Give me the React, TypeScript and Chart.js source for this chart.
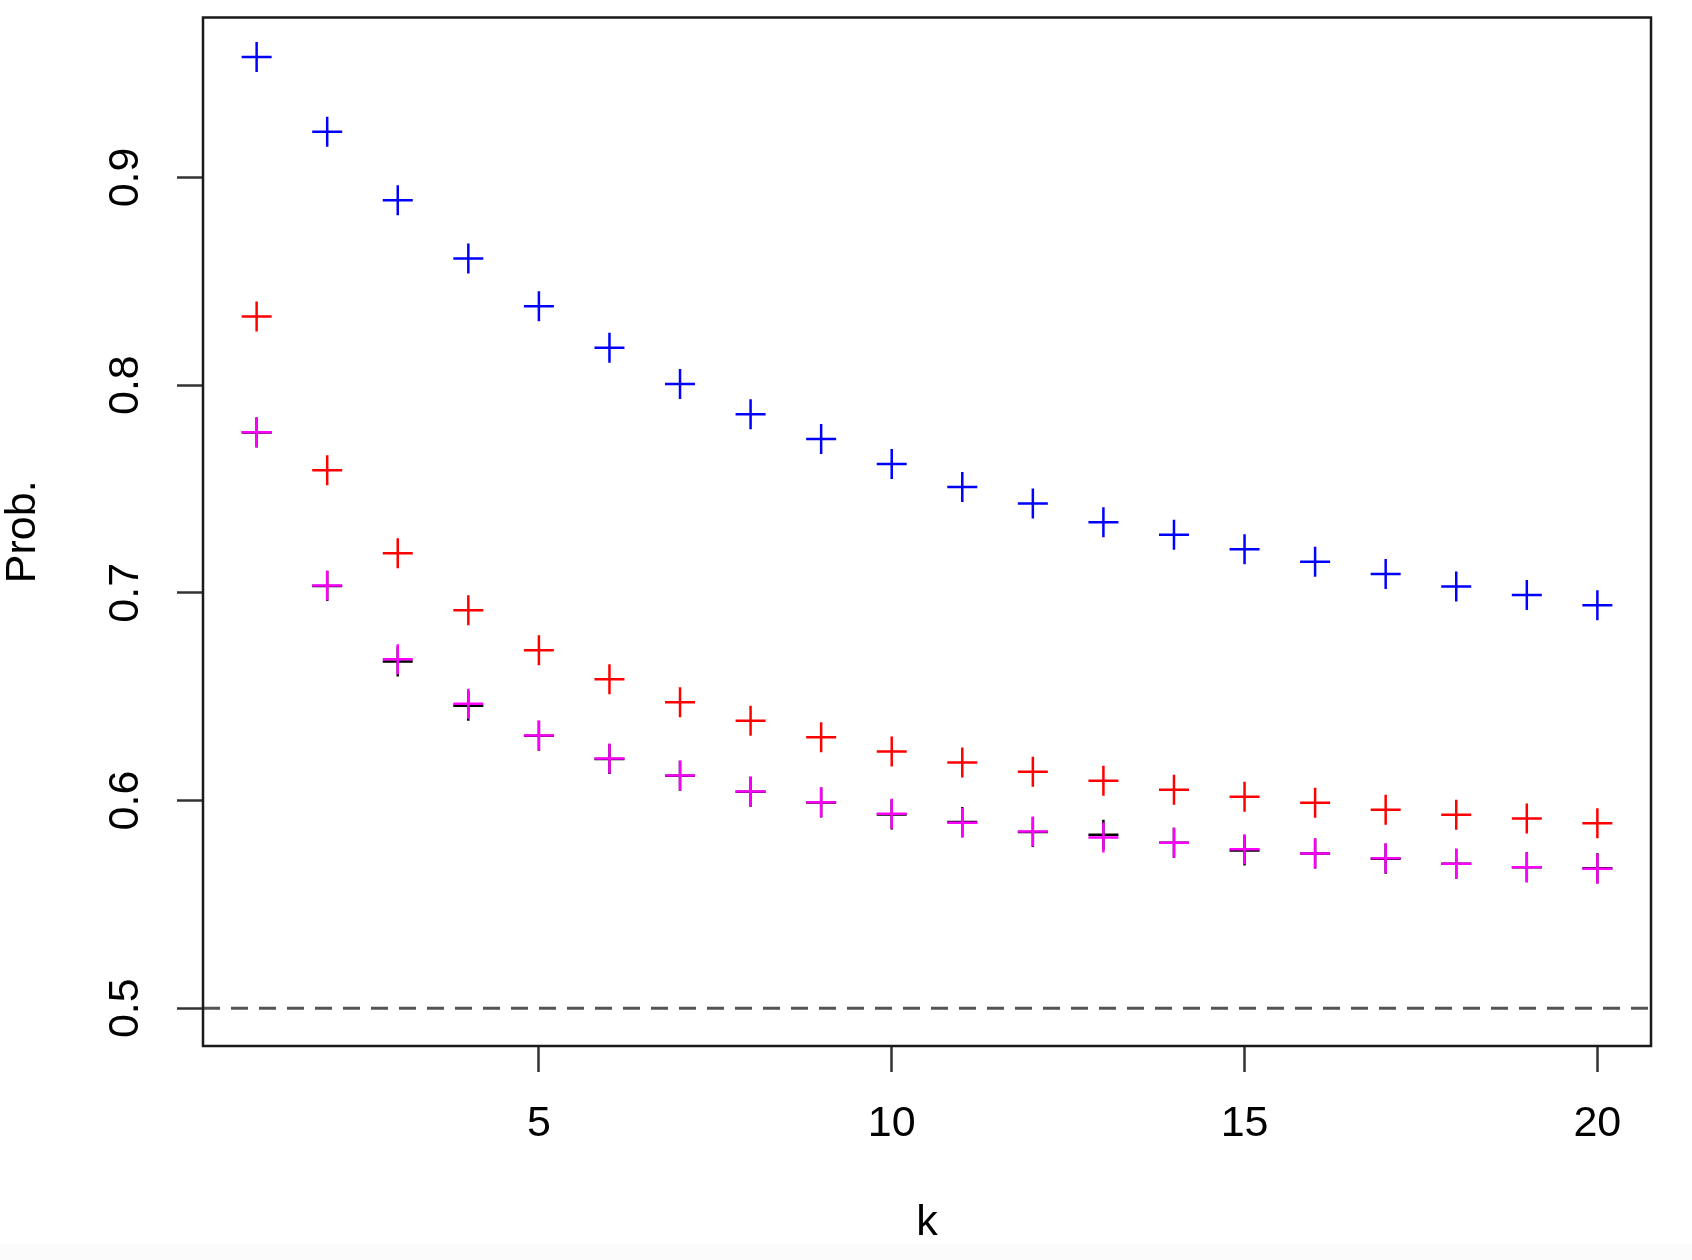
import React, { useEffect, useRef } from 'react';
import { Chart, registerables } from 'chart.js';

Chart.register(...registerables);

// ---- data ----
const kValues = [1, 2, 3, 4, 5, 6, 7, 8, 9, 10, 11, 12, 13, 14, 15, 16, 17, 18, 19, 20];
const blueProb = [0.958, 0.922, 0.889, 0.861, 0.838, 0.818, 0.8005, 0.786, 0.774, 0.762, 0.751, 0.743, 0.734, 0.728, 0.721, 0.715, 0.709, 0.703, 0.699, 0.694];
const redProb = [0.833, 0.759, 0.719, 0.6916, 0.6724, 0.6584, 0.6473, 0.6384, 0.6305, 0.6236, 0.6183, 0.6138, 0.6095, 0.6052, 0.6018, 0.5989, 0.5955, 0.5931, 0.5913, 0.5891];
const magentaProb = [0.7773, 0.7035, 0.668, 0.6466, 0.6313, 0.6202, 0.612, 0.6043, 0.5992, 0.5936, 0.5893, 0.5851, 0.5822, 0.5797, 0.5765, 0.5745, 0.5722, 0.5695, 0.5679, 0.5671];
const blackProb = [0.7772, 0.7033, 0.6669, 0.6456, 0.6312, 0.6200, 0.6119, 0.6042, 0.5991, 0.5933, 0.5896, 0.5848, 0.5835, 0.5797, 0.5759, 0.5745, 0.5719, 0.5695, 0.5679, 0.5674];
const xTickValues = [5, 10, 15, 20];
const yTickValues = [0.5, 0.6, 0.7, 0.8, 0.9];
const referenceLevel = 0.5;
const xTitle = 'k';
const yTitle = 'Prob.';
const xRange = [0.24, 20.76];
const yRange = [0.4818, 0.977];

const FONT = '"Liberation Sans", Arial, Helvetica, sans-serif';

const toPoints = (vals: number[]) => kValues.map((k, i) => ({ x: k, y: vals[i] }));

const framePlugin = {
  id: 'frame',
  afterDraw(chart: any) {
    const { ctx, chartArea } = chart;
    ctx.save();
    ctx.strokeStyle = '#1a1a1a';
    ctx.lineWidth = 2.5;
    ctx.strokeRect(chartArea.left, chartArea.top, chartArea.right - chartArea.left, chartArea.bottom - chartArea.top);
    ctx.restore();
  },
};

const zeroPad = (s: any) => {
  s.paddingTop = 0;
  s.paddingBottom = 0;
  s.paddingLeft = 0;
  s.paddingRight = 0;
};

export default function App() {
  const ref = useRef<HTMLCanvasElement | null>(null);

  useEffect(() => {
    if (!ref.current) return;
    const crossDs = (label: string, vals: number[], color: string) => ({
      type: 'scatter' as const,
      label,
      data: toPoints(vals),
      showLine: false,
      pointStyle: 'cross',
      pointRadius: 15,
      pointHoverRadius: 15,
      pointBorderWidth: 2.5,
      borderColor: color,
      backgroundColor: color,
    });
    const chart = new Chart(ref.current, {
      type: 'scatter',
      data: {
        datasets: [
          crossDs('blue', blueProb, '#0000ff'),
          crossDs('red', redProb, '#ff0000'),
          crossDs('magenta', magentaProb, '#ff00ff'),
          crossDs('black', blackProb, '#000000'),
          {
            type: 'line' as const,
            label: 'ref',
            data: [
              { x: xRange[0], y: referenceLevel },
              { x: xRange[1], y: referenceLevel },
            ],
            borderColor: '#555555',
            borderWidth: 3,
            borderDash: [17, 11],
            pointRadius: 0,
            fill: false,
          } as any,
        ],
      },
      options: {
        responsive: false,
        animation: false,
        events: [],
        layout: { padding: { left: 0, top: 16, right: 41, bottom: 0 } },
        plugins: { legend: { display: false }, tooltip: { enabled: false } },
        scales: {
          x: {
            type: 'linear',
            position: 'bottom',
            min: xRange[0],
            max: xRange[1],
            afterBuildTicks: (s: any) => {
              s.ticks = xTickValues.map((v) => ({ value: v }));
            },
            afterFit: (s: any) => {
              s.height = 214;
              zeroPad(s);
            },
            grid: {
              drawOnChartArea: false,
              drawTicks: true,
              tickLength: 26,
              tickWidth: 2.5,
              tickColor: '#333333',
            },
            border: { display: false },
            ticks: {
              color: '#000',
              font: { family: FONT, size: 43 },
              padding: 26,
              maxRotation: 0,
              minRotation: 0,
              autoSkip: false,
              callback: (v: any) => String(v),
            },
            title: {
              display: true,
              text: xTitle,
              color: '#000',
              font: { family: FONT, size: 43, lineHeight: 1.2 },
              padding: { top: 0, bottom: 11 },
            },
          },
          y: {
            type: 'linear',
            position: 'left',
            min: yRange[0],
            max: yRange[1],
            afterBuildTicks: (s: any) => {
              s.ticks = yTickValues.map((v) => ({ value: v }));
            },
            afterFit: (s: any) => {
              s.width = 203;
              zeroPad(s);
            },
            grid: {
              drawOnChartArea: false,
              drawTicks: true,
              tickLength: 26,
              tickWidth: 2.5,
              tickColor: '#333333',
            },
            border: { display: false },
            ticks: {
              color: '#000',
              font: { family: FONT, size: 43 },
              padding: 21,
              minRotation: 90,
              maxRotation: 90,
              crossAlign: 'center',
              autoSkip: false,
              callback: (v: any) => Number(v).toFixed(1),
            },
            title: {
              display: true,
              text: yTitle,
              color: '#000',
              font: { family: FONT, size: 43, lineHeight: 1 },
              padding: { top: 2, bottom: 0 },
            },
          },
        },
      },
      plugins: [framePlugin],
    } as any);
    return () => chart.destroy();
  }, []);

  return (
    <div style={{ position: 'absolute', left: 0, top: 0, width: 1692, height: 1260, background: '#ffffff' }}>
      <div style={{ position: 'absolute', left: 0, top: 1244, width: 1692, height: 16, background: '#fbfbfb' }} />
      <canvas ref={ref} width={1692} height={1260} style={{ position: 'absolute', left: 0, top: 0, display: 'block' }} />
    </div>
  );
}
